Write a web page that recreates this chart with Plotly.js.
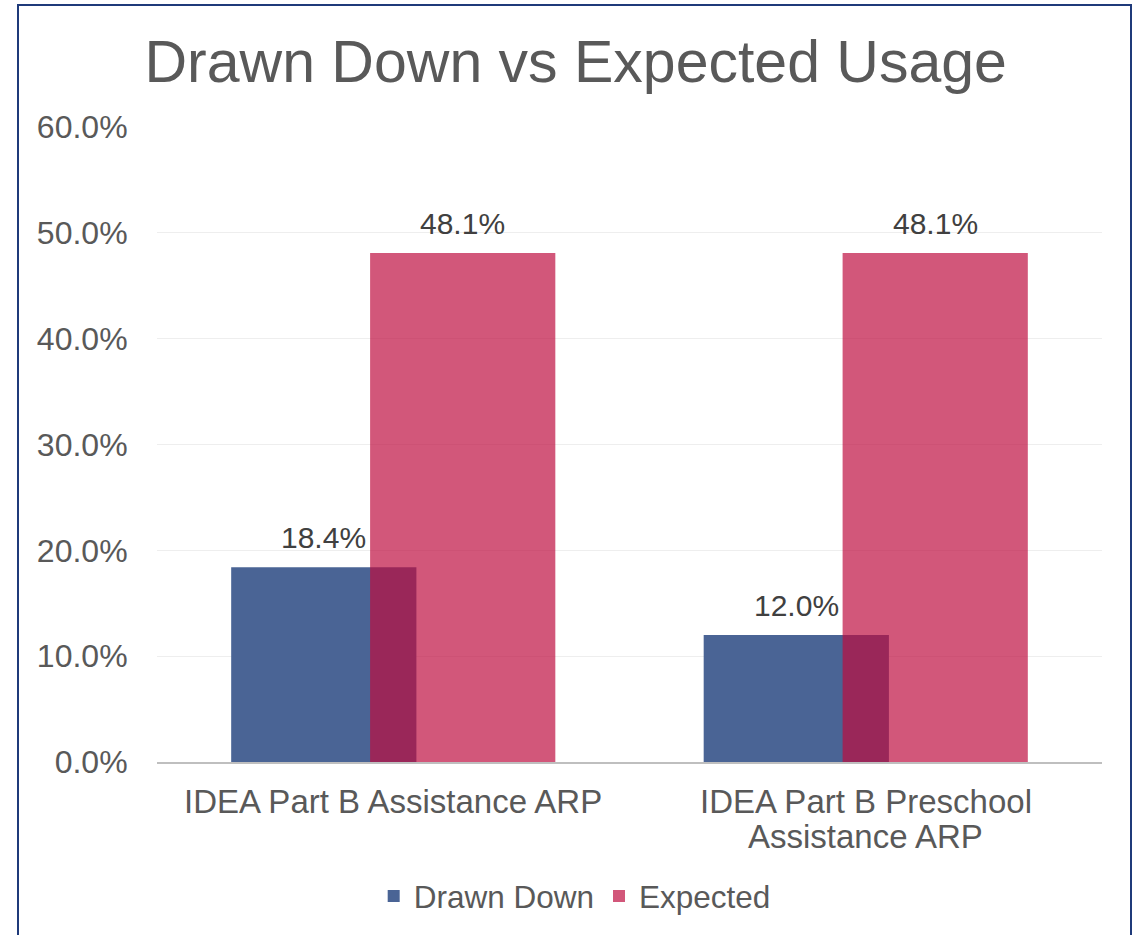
<!DOCTYPE html>
<html>
<head>
<meta charset="utf-8">
<script src="https://cdn.plot.ly/plotly-3.0.1.min.js"></script>
<style>
html,body{margin:0;padding:0;background:#fff;}
#chart{position:absolute;left:0;top:0;width:1140px;height:935px;}
#frame{position:absolute;left:17px;top:4px;width:1111px;height:960px;border:2px solid #1F3A7A;pointer-events:none;}
</style>
</head>
<body>
<div id="chart"></div>
<div id="frame"></div>
<script>
const categories = ["IDEA Part B Assistance ARP", "IDEA Part B Preschool<br>Assistance ARP"];
const drawnDown = [0.184, 0.120];
const expected = [0.481, 0.481];
const tickVals = [0, 0.1, 0.2, 0.3, 0.4, 0.5, 0.6];
const tickText = ["0.0%", "10.0%", "20.0%", "30.0%", "40.0%", "50.0%", "60.0%"];

const fmt = v => (v * 100).toFixed(1) + "%";
const font = "Liberation Sans, Arial, sans-serif";
const barW = 0.392;
const offDD = -0.343, offEx = -0.049;

const traces = [
  {
    type: "bar", name: "Drawn Down", x: categories, y: drawnDown,
    width: barW, offset: offDD,
    marker: {color: "#4A6495"},
    hoverinfo: "none"
  },
  {
    type: "bar", name: "Expected", x: categories, y: expected,
    width: barW, offset: offEx,
    marker: {color: "rgba(190,12,62,0.69)"},
    hoverinfo: "none"
  }
];

const annotations = [];
// data labels above bars
[[drawnDown, offDD], [expected, offEx]].forEach(([vals, off]) => {
  vals.forEach((v, i) => {
    annotations.push({
      xref: "x", yref: "y", x: i + off + barW / 2, y: v,
      text: fmt(v), showarrow: false, xanchor: "center", yanchor: "bottom", yshift: 11,
      font: {size: 30, color: "#404040", family: font}
    });
  });
});
// category labels with tight line spacing
categories.forEach((c, i) => {
  c.split("<br>").forEach((line, j) => {
    annotations.push({
      xref: "x", yref: "paper", x: i, y: -(40 + 34 * j) / 635,
      text: line, showarrow: false, xanchor: "center", yanchor: "middle",
      font: {size: 33, color: "#595959", family: font}
    });
  });
});

const layout = {
  width: 1140, height: 935,
  margin: {l: 157, r: 38, t: 127, b: 173},
  paper_bgcolor: "#fff", plot_bgcolor: "#fff",
  barmode: "overlay",
  font: {family: font, color: "#595959", size: 30},
  title: {text: "Drawn Down vs Expected Usage", x: 0.505, xanchor: "center", y: 0.934, yanchor: "middle",
          font: {size: 59, color: "#595959", family: font}},
  xaxis: {
    type: "category", showgrid: false, showline: true, linecolor: "#BFBFBF", linewidth: 2,
    ticks: "", showticklabels: false, automargin: false, range: [-0.5, 1.5]
  },
  yaxis: {
    range: [0, 0.6], tickvals: tickVals, ticktext: tickText,
    showgrid: true, gridcolor: "#EEEEEE", gridwidth: 1, zeroline: false, showline: false,
    ticks: "outside", ticklen: 22, tickcolor: "rgba(0,0,0,0)",
    tickfont: {size: 32, color: "#595959"}, automargin: false
  },
  annotations: annotations,
  legend: {orientation: "h", x: 0.442, xanchor: "center", y: -0.211, yanchor: "middle",
           font: {size: 31.5, color: "#595959"}, itemwidth: 30, traceorder: "normal"},
  showlegend: true
};

Plotly.newPlot("chart", traces, layout, {staticPlot: true});
</script>
</body>
</html>
